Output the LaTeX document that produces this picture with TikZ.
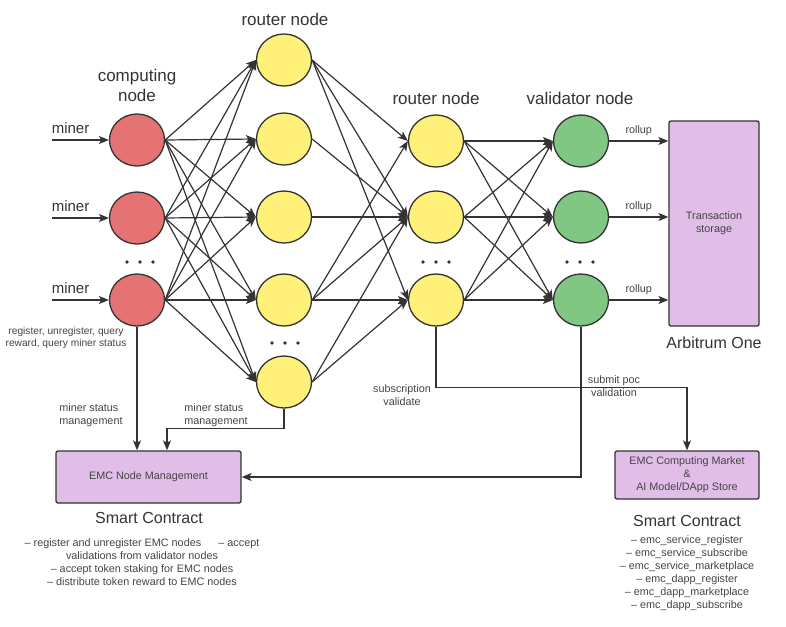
\documentclass[tikz,border=0pt]{standalone}
\usepackage{fontspec}
\setmainfont{Liberation Sans}
\usetikzlibrary{arrows.meta,shapes.geometric,positioning}
\newcommand{\tikzScale}{1}
\newcommand{\nodeWidth}{55pt}
\newcommand{\nodeHeight}{52pt}
\newcommand{\dotRadius}{1.8pt}
\newcommand{\smallText}{\fontsize{10.8}{13}\selectfont}
\newcommand{\layerText}{\fontsize{17}{20}\selectfont}
\newcommand{\contractText}{\fontsize{16}{19}\selectfont}
\newcommand{\minerText}{\fontsize{15}{18}\selectfont}
\definecolor{computeRed}{HTML}{E57373}
\definecolor{routerYellow}{HTML}{FFF07A}
\definecolor{validGreen}{HTML}{81C784}
\definecolor{contractPurple}{HTML}{E1BEE7}
\definecolor{lineGray}{HTML}{333333}
\definecolor{textGray}{HTML}{444444}
\tikzset{
  neuron/.style={ellipse, draw=lineGray, line width=1.3pt, minimum width=\nodeWidth, minimum height=\nodeHeight, inner sep=0pt},
  computing/.style={neuron, fill=computeRed},
  router/.style={neuron, fill=routerYellow},
  validator/.style={neuron, fill=validGreen},
  contract/.style={draw=lineGray, line width=1.3pt, rounded corners=2pt, fill=contractPurple, align=center, font=\smallText, text=textGray},
  link/.style={-{Stealth[length=10pt,width=8pt,inset=2.5pt]}, line width=1.2pt, draw=lineGray},
  layertitle/.style={font=\layerText, text=lineGray, align=center, inner sep=0pt},
  note/.style={font=\smallText, text=textGray, align=center, inner sep=0pt},
}

\begin{document}
\begin{tikzpicture}[scale=\tikzScale, x=1pt, y=-1pt]
\useasboundingbox (0,0) rectangle (786,626);

\node[computing] (c1) at (137,140) {};
\node[computing] (c2) at (137,218) {};
\node[computing] (c3) at (137,300) {};

\node[router] (r1) at (284,60) {};
\node[router] (r2) at (284,139) {};
\node[router] (r3) at (284,217) {};
\node[router] (r4) at (284,300) {};
\node[router] (r5) at (284,382) {};

\node[router] (s1) at (436,141) {};
\node[router] (s2) at (436,217) {};
\node[router] (s3) at (436,300) {};

\node[validator] (v1) at (581,141) {};
\node[validator] (v2) at (581,217) {};
\node[validator] (v3) at (581,300) {};

\node[contract, minimum width=90pt, minimum height=205pt] (arb) at (714,223.5) {Transaction\\storage};
\node[contract, minimum width=185pt, minimum height=52pt] (emc) at (148.5,477) {EMC Node Management};
\node[contract, minimum width=144pt, minimum height=48pt] (market) at (687,475) {EMC Computing Market\\\&\\AI Model/DApp Store};

% layer titles
\node[layertitle] (ctitle) at (137,85) {computing\\node};
\node[layertitle] (rtitle) at (285,19) {router node};
\node[layertitle] (stitle) at (436,98) {router node};
\node[layertitle] (vtitle) at (580,98) {validator node};
\node[font=\contractText, text=lineGray, inner sep=0pt] (arbtitle) at (714,343) {Arbitrum One};

% dots
\fill[lineGray] (127,262) circle[radius=\dotRadius] (140,262) circle[radius=\dotRadius] (153,262) circle[radius=\dotRadius];
\fill[lineGray] (272,343) circle[radius=\dotRadius] (285,343) circle[radius=\dotRadius] (298,343) circle[radius=\dotRadius];
\fill[lineGray] (423,262) circle[radius=\dotRadius] (436,262) circle[radius=\dotRadius] (449,262) circle[radius=\dotRadius];
\fill[lineGray] (567,262) circle[radius=\dotRadius] (580,262) circle[radius=\dotRadius] (593,262) circle[radius=\dotRadius];

% miners
\coordinate[left=57pt of c1] (m1);
\coordinate[left=57pt of c2] (m2);
\coordinate[left=57pt of c3] (m3);
\draw[link] (m1) node[anchor=south west, font=\minerText, text=lineGray, xshift=-4pt, yshift=2pt] {miner} -- (c1);
\draw[link] (m2) node[anchor=south west, font=\minerText, text=lineGray, xshift=-4pt, yshift=2pt] {miner} -- (c2);
\draw[link] (m3) node[anchor=south west, font=\minerText, text=lineGray, xshift=-4pt, yshift=2pt] {miner} -- (c3);

\draw[link] (c1.east) -- (r1.west);
\draw[link] (c1.east) -- (r2.west);
\draw[link] (c1.east) -- (r3.west);
\draw[link] (c1.east) -- (r4.west);
\draw[link] (c1.east) -- (r5.west);
\draw[link] (c2.east) -- (r1.west);
\draw[link] (c2.east) -- (r2.west);
\draw[link] (c2.east) -- (r3.west);
\draw[link] (c2.east) -- (r4.west);
\draw[link] (c2.east) -- (r5.west);
\draw[link] (c3.east) -- (r1.west);
\draw[link] (c3.east) -- (r2.west);
\draw[link] (c3.east) -- (r3.west);
\draw[link] (c3.east) -- (r4.west);
\draw[link] (c3.east) -- (r5.west);

\draw[link] (r1.east) -- (s1.west);
\draw[link] (r1.east) -- (s2.west);
\draw[link] (r1.east) -- (s3.west);
\draw[link] (r2.east) -- (s2.west);
\draw[link] (r3.east) -- (s2.west);
\draw[link] (r4.east) -- (s1.west);
\draw[link] (r4.east) -- (s2.west);
\draw[link] (r4.east) -- (s3.west);
\draw[link] (r5.east) -- (s2.west);
\draw[link] (r5.east) -- (s3.west);

\draw[link] (s1.east) -- (v1.west);
\draw[link] (s1.east) -- (v2.west);
\draw[link] (s1.east) -- (v3.west);
\draw[link] (s2.east) -- (v1.west);
\draw[link] (s2.east) -- (v2.west);
\draw[link] (s2.east) -- (v3.west);
\draw[link] (s3.east) -- (v1.west);
\draw[link] (s3.east) -- (v2.west);
\draw[link] (s3.east) -- (v3.west);

% rollup
\draw[link] (v1.east) -- node[note, above=5pt] {rollup} (v1.east -| arb.west);
\draw[link] (v2.east) -- node[note, above=5pt] {rollup} (v2.east -| arb.west);
\draw[link] (v3.east) -- node[note, above=5pt] {rollup} (v3.east -| arb.west);

% contracts
\draw[link] (c3.south) -- (c3.south |- emc.north);
\draw[link] (r5.south) -- ++(0,20) -| ([xshift=18.5pt]emc.north);
\draw[link] (s3.south) -- ++(0,61) -| (market.north);
\draw[link] (v3.south) |- (emc.east);

\node[note, font=\fontsize{10.2}{12.5}\selectfont] (querylabel) at (66,338) {register, unregister, query\\reward, query miner status};
\node[note, align=left] (minerlabel) at (91,415) {miner status\\management};
\node[note, align=left] (routerlabel) at (216,415) {miner status\\management};
\node[note] (sublabel) at (402,395) {subscription\\validate};
\node[note] (poclabel) at (614,386) {submit poc\\validation};

\node[font=\contractText, text=lineGray, inner sep=0pt] (emctitle) at (149,518) {Smart Contract};
\node[note] (emclist) at (142,562) {-- register and unregister EMC nodes\hspace{1.6em}-- accept\\validations from validator nodes\\-- accept token staking for EMC nodes\\-- distribute token reward to EMC nodes};
\node[font=\contractText, text=lineGray, inner sep=0pt] (markettitle) at (687,521) {Smart Contract};
\node[note] (marketlist) at (687,573) {-- emc\_service\_register\\-- emc\_service\_subscribe\\-- emc\_service\_marketplace\\-- emc\_dapp\_register\\-- emc\_dapp\_marketplace\\-- emc\_dapp\_subscribe};
\end{tikzpicture}
\end{document}
